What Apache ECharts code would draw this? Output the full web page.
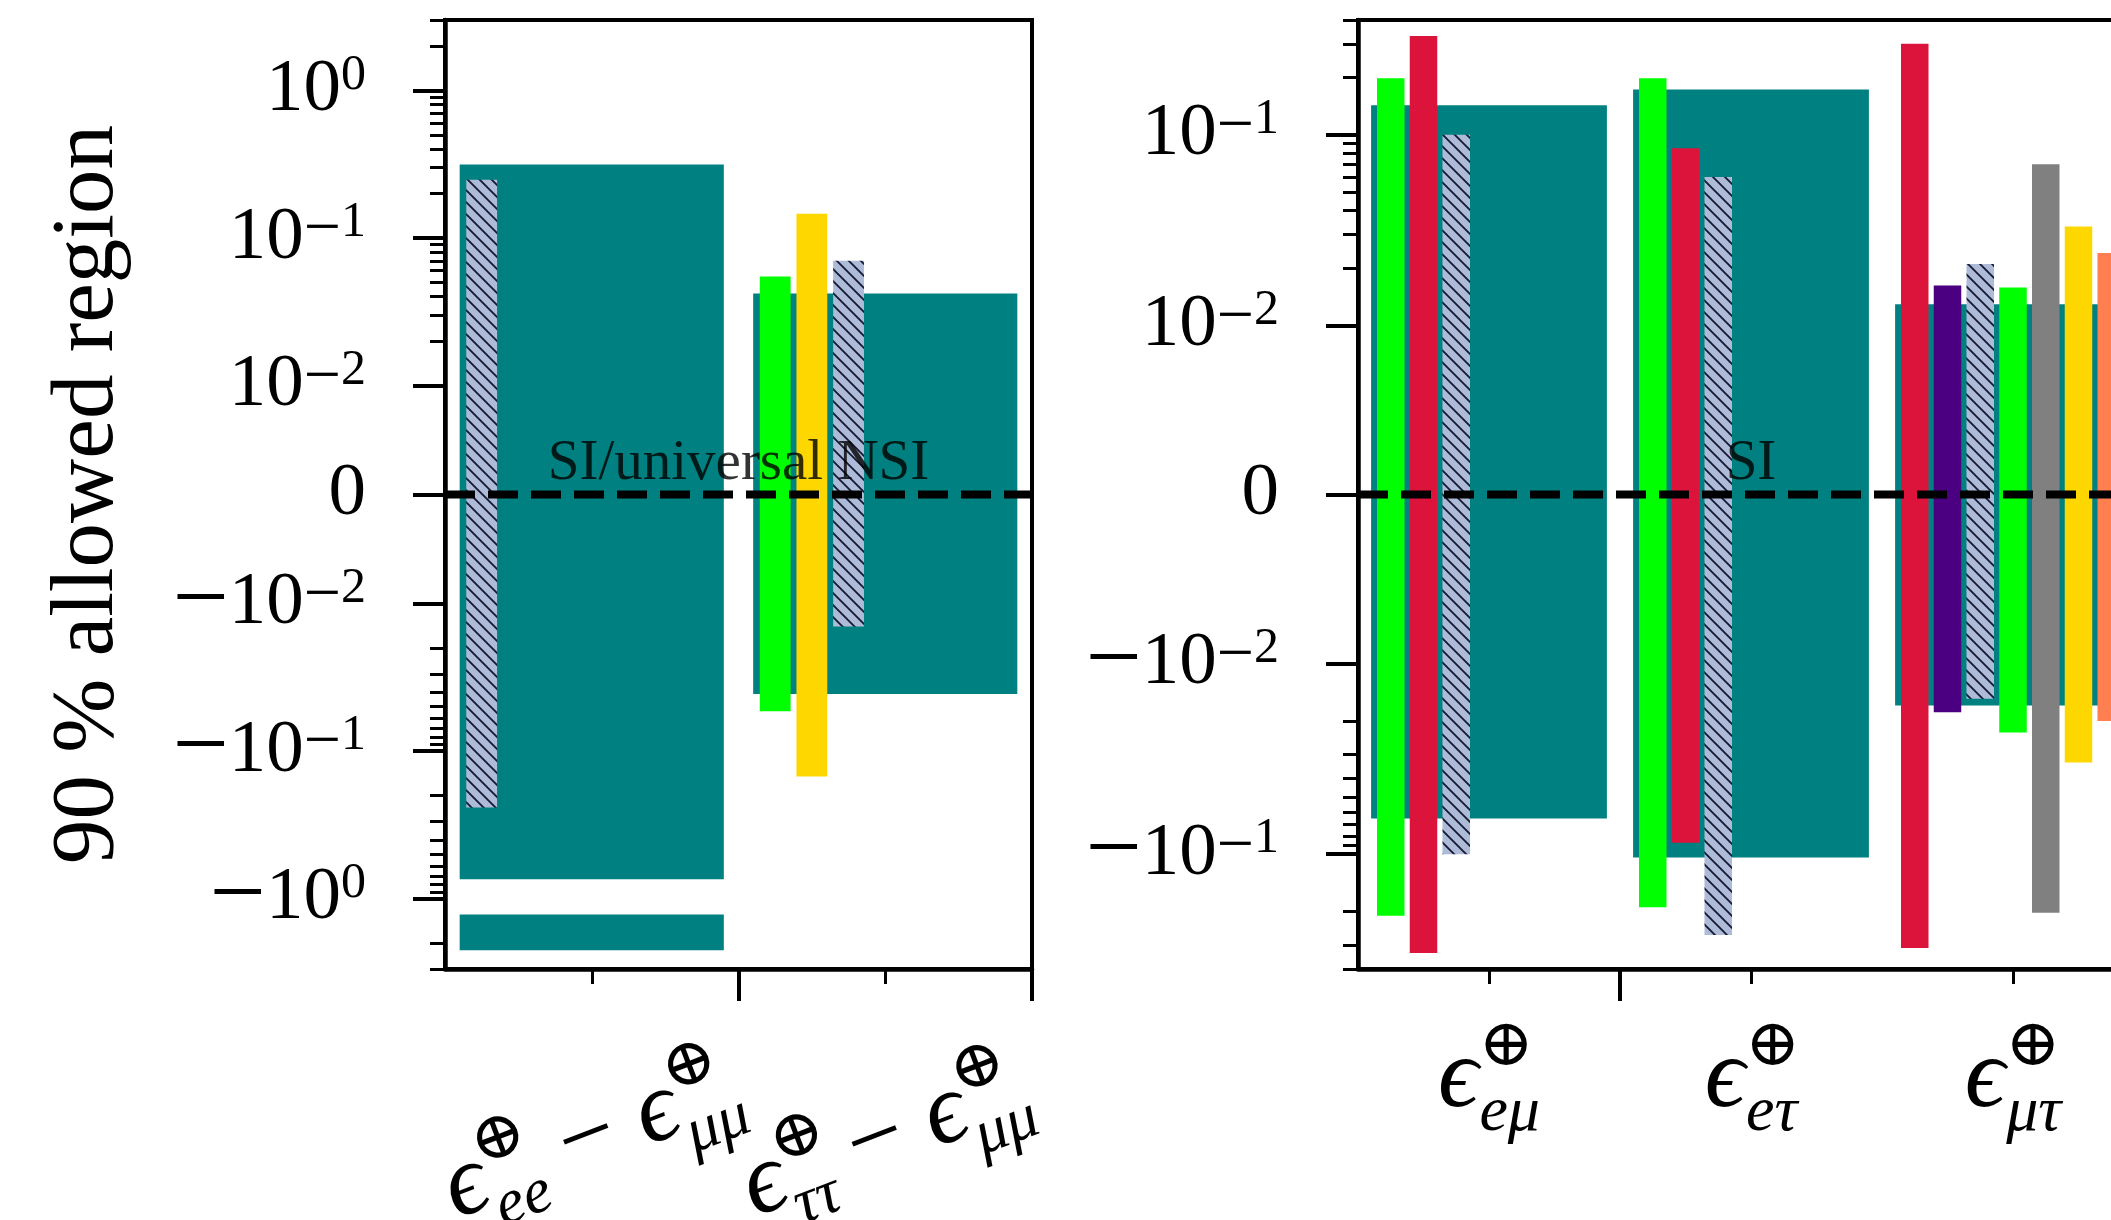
<!DOCTYPE html>
<html><head><meta charset="utf-8">
<script src="https://cdn.jsdelivr.net/npm/echarts@6/dist/echarts.min.js"></script>
<style>html,body{margin:0;padding:0;background:#fff}#c{width:2111px;height:1220px}</style>
</head><body><div id="c"></div>
<script>
// ================= DATA =================
// x categories (subscripts of the epsilon labels)
const leftCategories = [['ee', 'μμ'], ['ττ', 'μμ']];
const rightCategories = ['eμ', 'eτ', 'μτ'];

// y tick values and labels
const leftMajorTicks = [-1, -0.1, -0.01, 0, 0.01, 0.1, 1];
const leftTickLabels = [['−10', '0'], ['−10', '−1'], ['−10', '−2'], ['0', ''], ['10', '−2'], ['10', '−1'], ['10', '0']];
const rightMajorTicks = [-0.1, -0.01, 0, 0.01, 0.1];
const rightTickLabels = [['−10', '−1'], ['−10', '−2'], ['0', ''], ['10', '−2'], ['10', '−1']];

// 90% allowed intervals [lower, upper] per category (null = no bound shown)
// left panel
const tealLeft      = [[-0.74, 0.314], [-0.041, 0.042]];
const tealLeftExtra = [[-2.24, -1.28], null];
const hatchLeft     = [[-0.241, 0.248], [-0.0143, 0.070]];
const limeLeft      = [null, [-0.0538, 0.0547]];
const goldLeft      = [null, [-0.149, 0.146]];
// right panel
const tealRight    = [[-0.065, 0.143], [-0.104, 0.173], [-0.0166, 0.0129]];
const limeRight    = [[-0.21, 0.198], [-0.19, 0.198], [-0.023, 0.0158]];
const crimsonRight = [[-0.33, 0.33], [-0.087, 0.085], [-0.31, 0.30]];
const hatchRight   = [[-0.10, 0.10], [-0.265, 0.06], [-0.0153, 0.021]];
const indigoRight  = [null, null, [-0.018, 0.0162]];
const grayRight    = [null, null, [-0.203, 0.070]];
const goldRight    = [null, null, [-0.033, 0.033]];
const coralRight   = [null, null, [-0.020, 0.024]];

// ================= LAYOUT / STYLE =================
const FONT = "'Liberation Serif','DejaVu Serif',serif";
const LIN_LEFT = 0.739, LIN_RIGHT = 0.887;   // linear half-width (in decades) of the symlog axes
const LINTHRESH = 0.01;
function symlog(v, lin) {
  const a = Math.abs(v);
  if (a <= LINTHRESH) return v / LINTHRESH * lin;
  return Math.sign(v) * (lin + Math.log10(a / LINTHRESH));
}
const LEFT_MAX = 3, RIGHT_MAX = 0.4;
function minorTicks(decades, maxv) {
  const out = [];
  decades.forEach(k => { for (let m = 2; m <= 9; m++) { const v = m * k; if (v <= maxv * 1.0001) { out.push(v, -v); } } });
  return out;
}
const leftMinor = minorTicks([0.01, 0.1, 1], LEFT_MAX);
const rightMinor = minorTicks([0.01, 0.1], RIGHT_MAX);

// slot order inside each category (offset = -0.375 + slot*0.125)
const BAR_W = 0.105, WIDE_W = 0.9;
const slotLeft  = {hatch: [0, 2], lime: [null, 0], gold: [null, 1]};
const slotRight = {lime: [0, 0, 3], crimson: [1, 1, 0], hatch: [2, 2, 2], indigo: [null, null, 1], gray: [null, null, 4], gold: [null, null, 5], coral: [null, null, 6]};

function makeHatch() {
  const s = 12, c = document.createElement('canvas');
  c.width = s; c.height = s;
  const g = c.getContext('2d');
  g.fillStyle = '#adbbd8'; g.fillRect(0, 0, s, s);
  g.strokeStyle = '#141830'; g.lineWidth = 1.8;
  g.beginPath();
  g.moveTo(-2, -2); g.lineTo(s + 2, s + 2);
  g.moveTo(-2, s - 2); g.lineTo(2, s + 2);
  g.moveTo(s - 2, -2); g.lineTo(s + 2, 2);
  g.stroke();
  return c;
}
const HATCH = {image: makeHatch(), repeat: 'repeat'};

function barItems(values, lin, slots, wide) {
  const out = [];
  values.forEach((iv, i) => {
    if (!iv) return;
    const xc = wide ? i : i - 0.375 + slots[i] * 0.125;
    out.push([xc, symlog(iv[0], lin), symlog(iv[1], lin), wide ? WIDE_W : BAR_W]);
  });
  return out;
}
function renderBar(params, api) {
  const xc = api.value(0), lo = api.value(1), hi = api.value(2), w = api.value(3);
  const p1 = api.coord([xc - w / 2, hi]);
  const p2 = api.coord([xc + w / 2, lo]);
  return {type: 'rect', shape: {x: p1[0], y: p1[1], width: p2[0] - p1[0], height: p2[1] - p1[1]},
          style: {fill: api.visual('color')}};
}
function barSeries(name, data, color, axis, z) {
  return {type: 'custom', name, data, renderItem: renderBar, xAxisIndex: axis, yAxisIndex: axis,
          itemStyle: {color}, z: z || 2, silent: true, clip: false};
}

const series = [
  barSeries('teal', barItems(tealLeft, LIN_LEFT, null, true), '#008080', 0, 1),
  barSeries('teal2', barItems(tealLeftExtra, LIN_LEFT, null, true), '#008080', 0, 1),
  barSeries('lime', barItems(limeLeft, LIN_LEFT, slotLeft.lime), '#00ff00', 0),
  barSeries('gold', barItems(goldLeft, LIN_LEFT, slotLeft.gold), '#ffd700', 0),
  barSeries('hatch', barItems(hatchLeft, LIN_LEFT, slotLeft.hatch), HATCH, 0),
  barSeries('tealR', barItems(tealRight, LIN_RIGHT, null, true), '#008080', 2, 1),
  barSeries('limeR', barItems(limeRight, LIN_RIGHT, slotRight.lime), '#00ff00', 2),
  barSeries('crimsonR', barItems(crimsonRight, LIN_RIGHT, slotRight.crimson), '#dc143c', 2),
  barSeries('hatchR', barItems(hatchRight, LIN_RIGHT, slotRight.hatch), HATCH, 2),
  barSeries('indigoR', barItems(indigoRight, LIN_RIGHT, slotRight.indigo), '#4b0082', 2),
  barSeries('grayR', barItems(grayRight, LIN_RIGHT, slotRight.gray), '#808080', 2),
  barSeries('goldR', barItems(goldRight, LIN_RIGHT, slotRight.gold), '#ffd700', 2),
  barSeries('coralR', barItems(coralRight, LIN_RIGHT, slotRight.coral), '#ff7f50', 2),
  {type: 'line', data: [[-0.5, 0], [1.5, 0]], xAxisIndex: 0, yAxisIndex: 0, showSymbol: false, symbol: 'none', z: 10, silent: true,
   lineStyle: {color: '#000', width: 8, type: [30, 13]}},
  {type: 'line', data: [[-0.5, 0], [3.5, 0]], xAxisIndex: 2, yAxisIndex: 2, showSymbol: false, symbol: 'none', z: 10, silent: true,
   lineStyle: {color: '#000', width: 8, type: [30, 13]}},
  {type: 'scatter', data: [[0.5, 0]], xAxisIndex: 0, yAxisIndex: 0, symbolSize: 0, z: 11, silent: true,
   label: {show: true, position: 'top', distance: 2, formatter: 'SI/universal NSI', fontSize: 57, fontFamily: FONT, color: '#000'}},
  {type: 'scatter', data: [[1, 0]], xAxisIndex: 2, yAxisIndex: 2, symbolSize: 0, z: 11, silent: true,
   label: {show: true, position: 'top', distance: 2, formatter: 'SI', fontSize: 57, fontFamily: FONT, color: '#000'}}
];

const yRich = {
  b:  {fontSize: 75, fontFamily: FONT, color: '#000', lineHeight: 80},
  bm: {fontSize: 100, fontFamily: FONT, color: '#000', lineHeight: 80},
  s:  {fontSize: 50, fontFamily: FONT, color: '#000', lineHeight: 50, verticalAlign: 'top'},
  sm: {fontSize: 66, fontFamily: FONT, color: '#000', lineHeight: 50, verticalAlign: 'top'}
};
const xRich = {
  e: {fontSize: 100, fontFamily: FONT, fontStyle: 'italic', color: '#000', lineHeight: 130, align: 'left'},
  m: {fontSize: 100, fontFamily: FONT, color: '#000', lineHeight: 130, align: 'left'},
  o: {fontSize: 66, fontFamily: "'DejaVu Serif',serif", color: '#000', lineHeight: 74, verticalAlign: 'top', align: 'left', width: 1},
  u: {fontSize: 64, fontFamily: FONT, fontStyle: 'italic', color: '#000', lineHeight: 64, verticalAlign: 'bottom', align: 'left'}
};
function splitMinus(txt, plain, minus) {
  if (txt.charAt(0) === '−') return `{${minus}|−}{${plain}|${txt.slice(1)}}`;
  return `{${plain}|${txt}}`;
}
function yFormatter(ticks, labels, lin) {
  const tv = ticks.map(t => symlog(t, lin));
  return v => {
    let bi = 0;
    tv.forEach((t, i) => { if (Math.abs(t - v) < Math.abs(tv[bi] - v)) bi = i; });
    const l = labels[bi];
    return splitMinus(l[0], 'b', 'bm') + (l[1] ? splitMinus(l[1], 's', 'sm') : '');
  };
}
function epsTok(sub) { return `{e|ϵ}{o|⊕}{u|${sub}}`; }
function leftLabel(v) { const c = leftCategories[Math.round(v)]; return epsTok(c[0]) + '{m| − }' + epsTok(c[1]); }
const leftLabelStyle = {show: true, rotate: 21, align: 'center', verticalAlign: 'middle', margin: 170, hideOverlap: false, rich: xRich, formatter: leftLabel};

const GL = {left: 445, top: 20, width: 587, height: 949, show: true, borderColor: '#000', borderWidth: 4, containLabel: false, outerBoundsMode: 'none'};
const GR = {left: 1358, top: 20, width: 1048, height: 949, show: true, borderColor: '#000', borderWidth: 4, containLabel: false, outerBoundsMode: 'none'};
const ghost = g => Object.assign({}, g, {show: false});

const axLine = {show: true, onZero: false, lineStyle: {color: '#000', width: 4.5}};
const noLine = {show: false, onZero: false};

const option = {
  backgroundColor: '#fff',
  animation: false,
  grid: [GL, ghost(GL), GR, ghost(GR)],
  xAxis: [
    {gridIndex: 0, type: 'value', min: -0.5, max: 1.5, position: 'bottom', axisLine: axLine, splitLine: {show: false},
     axisTick: {show: true, length: 32, lineStyle: {color: '#000', width: 4}, customValues: [0.5, 1.5]},
     axisLabel: Object.assign({customValues: [0]}, leftLabelStyle)},
    {gridIndex: 1, type: 'value', min: -0.5, max: 1.5, position: 'bottom', axisLine: noLine, splitLine: {show: false},
     axisTick: {show: true, length: 15, lineStyle: {color: '#000', width: 3}, customValues: [0, 1]},
     axisLabel: Object.assign({customValues: [1]}, leftLabelStyle)},
    {gridIndex: 2, type: 'value', min: -0.5, max: 3.5, position: 'bottom', axisLine: axLine, splitLine: {show: false},
     axisTick: {show: true, length: 32, lineStyle: {color: '#000', width: 4}, customValues: [0.5]},
     axisLabel: {show: true, customValues: [0, 1, 2], margin: 46, verticalAlign: 'top', hideOverlap: false,
       rich: xRich, formatter: v => epsTok(rightCategories[Math.round(v)])}},
    {gridIndex: 3, type: 'value', min: -0.5, max: 3.5, position: 'bottom', axisLine: noLine, splitLine: {show: false},
     axisTick: {show: true, length: 15, lineStyle: {color: '#000', width: 3}, customValues: [0, 1, 2]}, axisLabel: {show: false}}
  ],
  yAxis: [
    {gridIndex: 0, type: 'value', min: -symlog(LEFT_MAX, LIN_LEFT), max: symlog(LEFT_MAX, LIN_LEFT), position: 'left',
     axisLine: axLine, splitLine: {show: false},
     axisTick: {show: true, length: 32, lineStyle: {color: '#000', width: 4}, customValues: leftMajorTicks.map(t => symlog(t, LIN_LEFT))},
     axisLabel: {show: true, margin: 79, hideOverlap: false,
       customValues: leftMajorTicks.map(t => symlog(t, LIN_LEFT)),
       rich: yRich, formatter: yFormatter(leftMajorTicks, leftTickLabels, LIN_LEFT)},
     name: '90 % allowed region', nameLocation: 'middle', nameRotate: 90, nameGap: 312,
     nameTextStyle: {fontSize: 89, fontFamily: FONT, color: '#000'}},
    {gridIndex: 1, type: 'value', min: -symlog(LEFT_MAX, LIN_LEFT), max: symlog(LEFT_MAX, LIN_LEFT), position: 'left',
     axisLine: noLine, splitLine: {show: false}, axisLabel: {show: false},
     axisTick: {show: true, length: 15, lineStyle: {color: '#000', width: 3}, customValues: leftMinor.map(t => symlog(t, LIN_LEFT))}},
    {gridIndex: 2, type: 'value', min: -symlog(RIGHT_MAX, LIN_RIGHT), max: symlog(RIGHT_MAX, LIN_RIGHT), position: 'left',
     axisLine: axLine, splitLine: {show: false},
     axisTick: {show: true, length: 32, lineStyle: {color: '#000', width: 4}, customValues: rightMajorTicks.map(t => symlog(t, LIN_RIGHT))},
     axisLabel: {show: true, margin: 79, hideOverlap: false,
       customValues: rightMajorTicks.map(t => symlog(t, LIN_RIGHT)),
       rich: yRich, formatter: yFormatter(rightMajorTicks, rightTickLabels, LIN_RIGHT)}},
    {gridIndex: 3, type: 'value', min: -symlog(RIGHT_MAX, LIN_RIGHT), max: symlog(RIGHT_MAX, LIN_RIGHT), position: 'left',
     axisLine: noLine, splitLine: {show: false}, axisLabel: {show: false},
     axisTick: {show: true, length: 15, lineStyle: {color: '#000', width: 3}, customValues: rightMinor.map(t => symlog(t, LIN_RIGHT))}}
  ],
  series
};
const chart = echarts.init(document.getElementById('c'), null, {renderer: 'canvas', width: 2111, height: 1220});
chart.setOption(option);
</script>
</body></html>
